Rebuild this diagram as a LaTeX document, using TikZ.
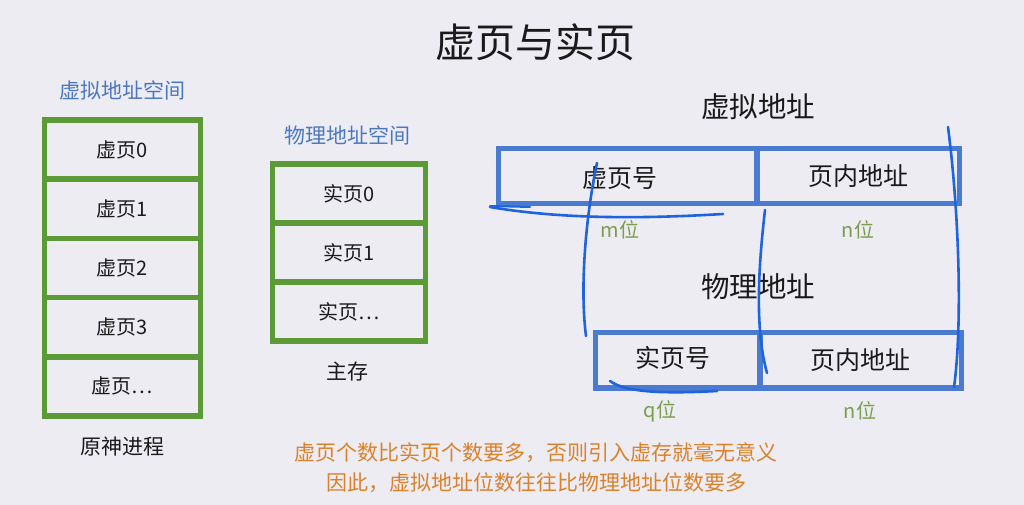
\documentclass[tikz,border=0pt]{standalone}
\usepackage{fontspec}
\setmainfont{Noto Sans CJK SC}
\usetikzlibrary{decorations.pathmorphing}
\definecolor{bg}{HTML}{EEECF3}
\definecolor{cgreen}{HTML}{5C9A38}
\definecolor{cblue}{HTML}{4A7BD0}
\definecolor{lblue}{HTML}{4A78C0}
\definecolor{pen}{HTML}{1E64DE}
\definecolor{bitgreen}{HTML}{7A9E4E}
\definecolor{corange}{HTML}{D9822B}
\definecolor{ink}{HTML}{1A1A1A}
\tikzset{
  gcell/.style={draw=cgreen, line width=5.5pt, inner sep=0pt, font=\fontsize{20}{22}\selectfont, text=ink},
  bcell/.style={draw=cblue, line width=5.5pt, inner sep=0pt, font=\fontsize{25}{27}\selectfont, text=ink},
  caption/.style={font=\fontsize{21}{23}\selectfont, text=ink},
  bluelabel/.style={font=\fontsize{21}{23}\selectfont, text=lblue},
  bits/.style={font=\fontsize{20}{22}\selectfont, text=bitgreen},
  heading/.style={font=\fontsize{28.5}{30}\selectfont, text=ink},
  note/.style={font=\fontsize{21}{23}\selectfont, text=corange},
  stroke/.style={draw=pen, line width=2.6pt, line cap=round},
}
\begin{document}
\begin{tikzpicture}[x=1pt,y=-1pt]
\fill[bg] (0,0) rectangle (1024,505);
\useasboundingbox (0,0) rectangle (1024,505);

\node[font=\fontsize{40}{42}\selectfont, text=ink] (title) at (535,42) {虚页与实页};

% left stack
\node[bluelabel] (vspace) at (122,90) {虚拟地址空间};
\foreach \i/\t [count=\k from 0] in {0/虚页0,1/虚页1,2/虚页2,3/虚页3,4/虚页…}{
  \node[gcell, minimum width=156pt, minimum height=59.2pt] (v\i) at (122.5,{149.6+59.2*\k}) {\t};
}
\node[caption] (proc) at (122,447) {原神进程};

% middle stack
\node[bluelabel] (pspace) at (347,135) {物理地址空间};
\foreach \i/\t [count=\k from 0] in {0/实页0,1/实页1,2/实页…}{
  \node[gcell, minimum width=153pt, minimum height=59pt] (p\i) at (349,{193.5+59*\k}) {\t};
}
\node[caption] (mem) at (347,372) {主存};

% virtual address
\node[heading] (vaddr) at (758,107) {虚拟地址};
\node[bcell, minimum width=258.5pt, minimum height=55pt] (vpn) at (627.75,176) {};
\node[bcell, minimum width=202.5pt, minimum height=55pt] (voff) at (858.25,176) {页内地址};
\node[font=\fontsize{25}{27}\selectfont, text=ink] (vpnt) at (620,178) {虚页号};
\node[bits] (mbits) at (620,230) {m位};
\node[bits] (nbits1) at (858,230) {n位};

% physical address
\node[heading] (paddr) at (758,287) {物理地址};
\node[bcell, minimum width=164.5pt, minimum height=55.5pt] (ppn) at (677.75,360) {};
\node[bcell, minimum width=201.5pt, minimum height=55.5pt] (poff) at (860.75,360) {页内地址};
\node[font=\fontsize{25}{27}\selectfont, text=ink] (ppnt) at (673,358) {实页号};
\node[bits] (qbits) at (660,411) {q位};
\node[bits] (nbits2) at (860,411) {n位};

% notes
\node[note] (note1) at (536,453) {虚页个数比实页个数要多，否则引入虚存就毫无意义};
\node[note] (note2) at (536,483) {因此，虚拟地址位数往往比物理地址位数要多};

% hand-drawn strokes
\coordinate (s1a) at (490,207);
\coordinate (s1b) at (723,214);
\draw[stroke] (s1a) .. controls (560,219) and (640,219) .. (s1b);
\draw[stroke, line width=2pt] (490,206) -- (530,207);
\coordinate (s2a) at (597,163);
\coordinate (s2b) at (586,336);
\draw[stroke] (s2a) .. controls (585,220) and (580,290) .. (s2b);
\coordinate (s3a) at (765,210);
\coordinate (s3b) at (767,373);
\draw[stroke] (s3a) .. controls (758,270) and (755,330) .. (s3b);
\coordinate (s4a) at (948,127);
\coordinate (s4b) at (954,387);
\draw[stroke] (s4a) .. controls (960,220) and (962,330) .. (s4b);
\coordinate (s5a) at (610,381);
\coordinate (s5b) at (717,391);
\draw[stroke] (s5a) .. controls (625,392) and (660,394) .. (s5b);
\end{tikzpicture}
\end{document}
